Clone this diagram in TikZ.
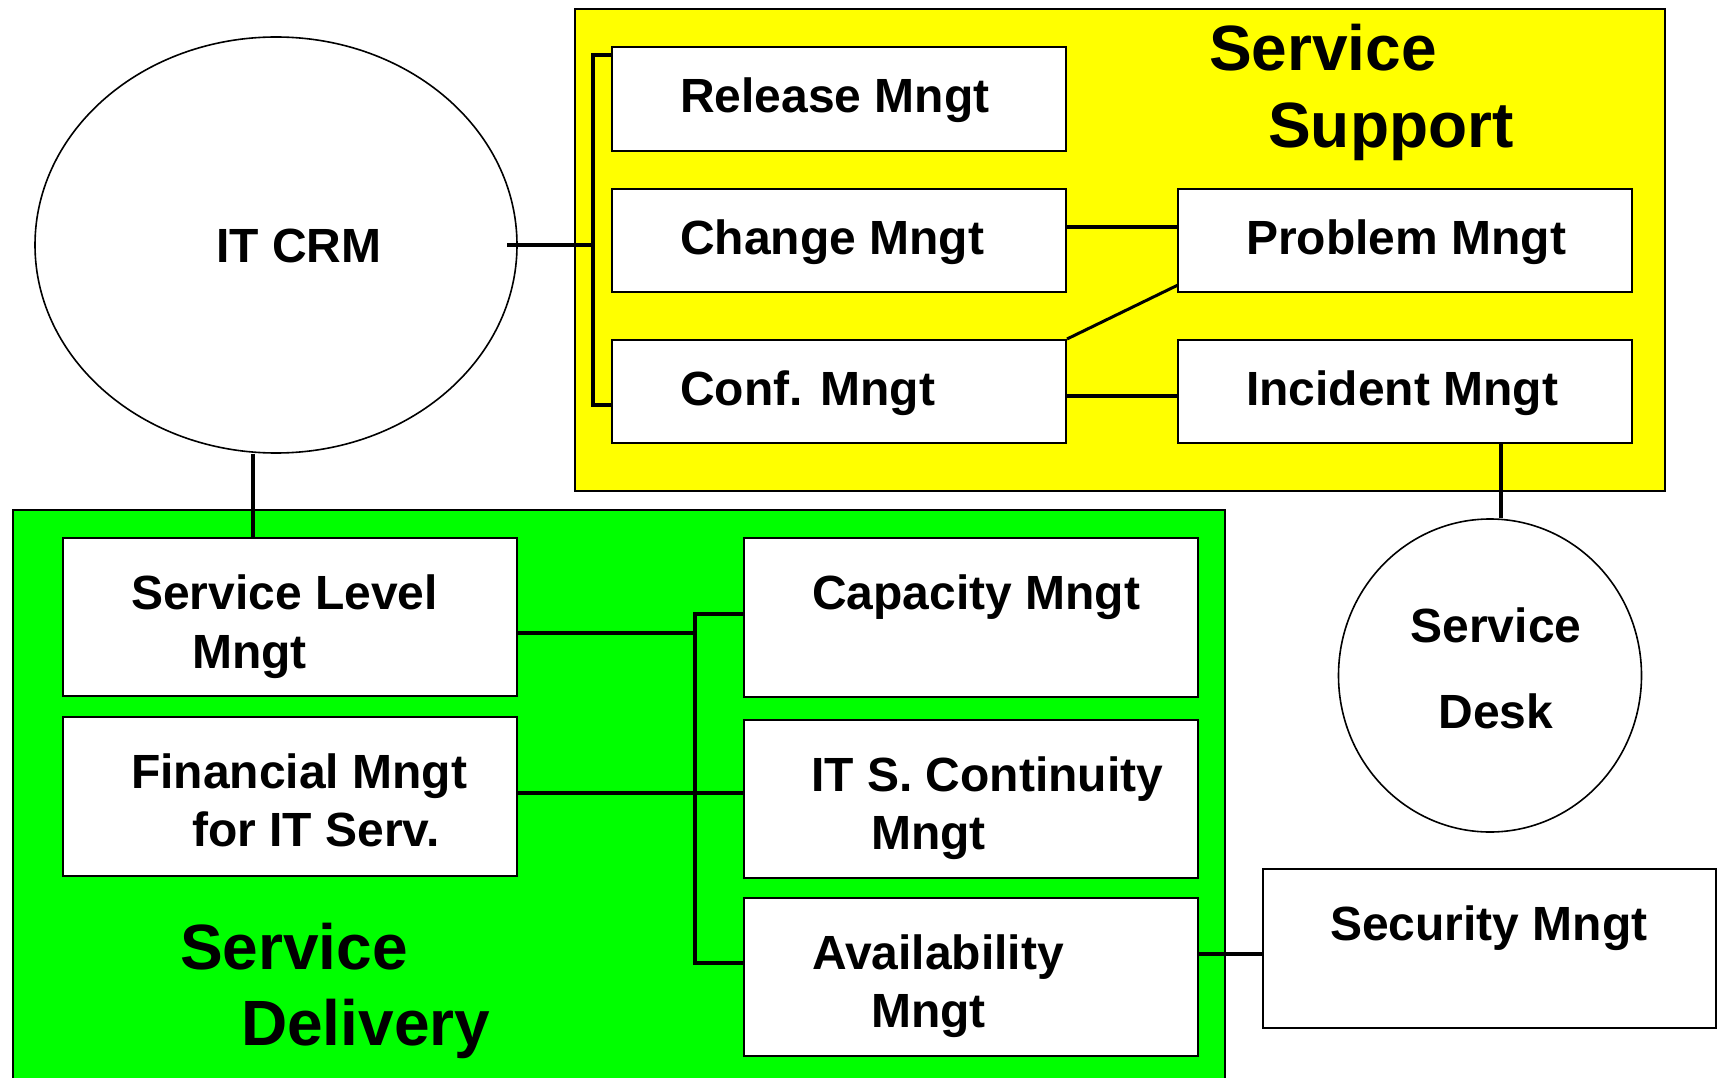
\documentclass[tikz,border=0pt]{standalone}
\usepackage{fontspec}
\setmainfont{Liberation Sans}
\usetikzlibrary{shapes.geometric}
\definecolor{ssyellow}{HTML}{FFFF00}
\definecolor{sdgreen}{HTML}{00FF00}
\tikzset{
  box/.style={draw=black, line width=2pt, fill=white, rectangle, inner sep=0pt, minimum width=454pt},
  oval/.style={draw=black, line width=1.6pt, fill=white, ellipse, inner sep=0pt},
  conn/.style={draw=black, line width=3.6pt},
  lbl/.style={anchor=base west, inner sep=0pt, xshift=-2pt, font=\fontsize{48}{58}\bfseries\selectfont},
  clbl/.style={anchor=base, inner sep=0pt, font=\fontsize{48}{58}\bfseries\selectfont},
  ttl/.style={anchor=base west, inner sep=0pt, xshift=-2pt, font=\fontsize{64}{76}\bfseries\selectfont},
  area/.style={draw=black, line width=2pt}
}
\begin{document}
\begin{tikzpicture}[x=1pt,y=-1pt]
\useasboundingbox (0,0) rectangle (1717,1078);
% background areas
\path[area, fill=ssyellow] (575,9) rectangle (1665,491);
\path[area, fill=sdgreen] (13,510) rectangle (1225,1084);

% nodes
\node[oval, minimum width=482pt, minimum height=416pt] (itcrm) at (276,245) {};
\node[oval, minimum width=303pt, minimum height=313pt] (sd) at (1490,675.5) {};

\node[box, minimum height=104pt] (release) at (839,99) {};
\node[box, minimum height=103pt] (change) at (839,240.5) {};
\node[box, minimum height=103pt] (conf) at (839,391.5) {};
\node[box, minimum height=103pt] (problem) at (1405,240.5) {};
\node[box, minimum height=103pt] (incident) at (1405,391.5) {};

\node[box, minimum height=158pt] (sl) at (290,617) {};
\node[box, minimum height=159pt] (fm) at (290,796.5) {};
\node[box, minimum height=159pt] (cap) at (971,617.5) {};
\node[box, minimum height=158pt] (its) at (971,799) {};
\node[box, minimum height=158pt] (avail) at (971,977) {};
\node[box, minimum width=453pt, minimum height=159pt] (sec) at (1489.5,948.5) {};

% helper coordinates
\coordinate (crmin) at (507,245);
\coordinate (brk) at (593,245);
\coordinate (yRel) at (0,55);
\coordinate (yConf) at (0,405);
\coordinate (yCP) at (0,227);
\coordinate (yCI) at (0,396);
\coordinate (pdiag) at (1178,285);
\coordinate (xSD) at (1501,0);
\coordinate (xCRM) at (253,0);
\coordinate (bus) at (695,633);
\coordinate (yCap) at (0,614);
\coordinate (yAv) at (0,963);
\coordinate (yFI) at (0,793);
\coordinate (yAS) at (0,954);

% connectors
\draw[conn] (crmin) -- (brk);
\draw[conn] (release.west |- yRel) -- (brk |- yRel) -- (brk |- yConf) -- (conf.west |- yConf);
\draw[conn] (change.east |- yCP) -- (problem.west |- yCP);
\draw[conn, line width=3pt] (conf.north east) -- (pdiag);
\draw[conn] (conf.east |- yCI) -- (incident.west |- yCI);
\draw[conn] (incident.south -| xSD) -- (sd.north -| xSD);
\draw[conn] (itcrm.south -| xCRM) -- (sl.north -| xCRM);
\draw[conn] (sl.east |- bus) -- (bus);
\draw[conn] (cap.west |- yCap) -- (bus |- yCap) -- (bus |- yAv) -- (avail.west |- yAv);
\draw[conn] (fm.east |- yFI) -- (its.west |- yFI);
\draw[conn] (avail.east |- yAS) -- (sec.west |- yAS);

% labels
\node[lbl] (tcrm) at (218,263) {IT CRM};
\node[lbl] (trel) at (682,113) {Release Mngt};
\node[lbl] (tchg) at (682,255) {Change Mngt};
\node[lbl] (tconf) at (682,405) {Conf. Mngt};
\node[lbl] (tprob) at (1248,255) {Problem Mngt};
\node[lbl] (tinc) at (1248,405) {Incident Mngt};
\node[ttl] (tss1) at (1211,71) {Service};
\node[ttl] (tss2) at (1270,148) {Support};

\node[lbl] (tsl1) at (133,609) {Service Level};
\node[lbl] (tsl2) at (194,668) {Mngt};
\node[lbl] (tfm1) at (133,788) {Financial Mngt};
\node[lbl] (tfm2) at (194,846) {for IT Serv.};
\node[lbl] (tcap) at (814,609) {Capacity Mngt};
\node[lbl] (tits1) at (813,791) {IT S. Continuity};
\node[lbl] (tits2) at (873,849) {Mngt};
\node[lbl] (tav1) at (814,969) {Availability};
\node[lbl] (tav2) at (873,1027) {Mngt};
\node[lbl] (tsec) at (1332,940) {Security Mngt};
\node[clbl] (tsd1) at (1496,642) {Service};
\node[clbl] (tsd2) at (1496,728) {Desk};
\node[ttl] (tsdl1) at (182,969) {Service};
\node[ttl] (tsdl2) at (243,1045) {Delivery};
\end{tikzpicture}
\end{document}
